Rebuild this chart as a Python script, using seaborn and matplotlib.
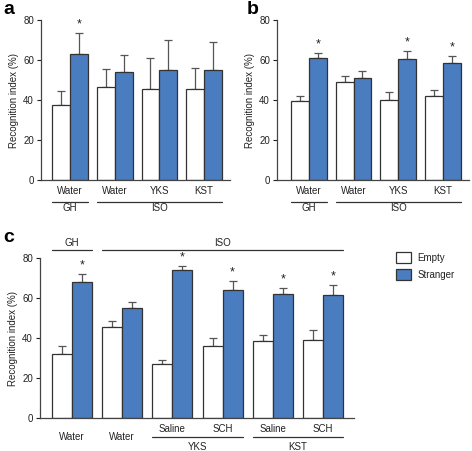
import numpy as np
import pandas as pd
import seaborn as sns
import matplotlib
matplotlib.use("Agg")
from matplotlib import pyplot as plt
from matplotlib import transforms
from matplotlib.patches import Patch

# ---- data ----
series = ["Empty", "Stranger"]

groups_ab = ["GH-Water", "ISO-Water", "ISO-YKS", "ISO-KST"]
a_empty = [37.5, 46.5, 45.5, 45.5]
a_empty_err = [7.0, 9.0, 15.5, 10.5]
a_stranger = [63.0, 54.0, 55.0, 55.0]
a_stranger_err = [10.5, 8.5, 15.0, 14.0]
a_star = [True, False, False, False]

b_empty = [39.5, 49.0, 40.0, 42.0]
b_empty_err = [2.5, 3.0, 4.0, 3.0]
b_stranger = [61.0, 51.0, 60.5, 58.5]
b_stranger_err = [2.5, 3.5, 4.0, 3.5]
b_star = [True, False, True, True]

groups_c = ["GH-Water", "ISO-Water", "YKS-Saline", "YKS-SCH", "KST-Saline", "KST-SCH"]
c_empty = [32.0, 45.5, 27.0, 36.0, 38.5, 39.0]
c_empty_err = [4.0, 3.0, 2.0, 4.0, 3.0, 5.0]
c_stranger = [68.0, 55.0, 74.0, 64.0, 62.0, 61.5]
c_stranger_err = [4.0, 3.0, 2.0, 4.5, 3.0, 5.0]
c_star = [True, False, True, True, True, True]

ab_ticklabels = ["Water", "Water", "YKS", "KST"]
c_ticklabels = ["Water", "Water", "Saline", "SCH", "Saline", "SCH"]

W, H = 472, 451
BLUE = "#4a7cc0"
EDGE = "#333333"
ERR = "#555555"
TXT = "#222222"

sns.set_style("white")
plt.rcParams["font.family"] = ["Liberation Sans", "DejaVu Sans"]

fig = plt.figure(figsize=(W / 100, H / 100), dpi=100)


def px_axes(left, top, right, bottom):
    return fig.add_axes([left / W, 1 - bottom / H, (right - left) / W, (bottom - top) / H])


def panel(ax, groups, empty, empty_err, stranger, stranger_err, stars, xlim):
    df = pd.DataFrame({
        "group": groups * 2,
        "kind": [series[0]] * len(groups) + [series[1]] * len(groups),
        "value": empty + stranger,
    })
    sns.barplot(data=df, x="group", y="value", hue="kind", order=groups,
                hue_order=series, palette={"Empty": "white", "Stranger": BLUE},
                saturation=1, errorbar=None, width=0.8, edgecolor=EDGE,
                linewidth=0.9, ax=ax, legend=False)
    errs = empty_err + stranger_err
    vals = empty + stranger
    star_flags = [False] * len(groups) + stars
    bars = [p for p in ax.patches if p.get_height() > 0]
    for bar, v, e, s in zip(bars, vals, errs, star_flags):
        xc = bar.get_x() + bar.get_width() / 2
        ax.errorbar(xc, v, yerr=[[0], [e]], color=ERR, lw=0.9, capsize=3,
                    capthick=0.9, zorder=0)
        if s:
            ax.text(xc, v + e + 1.5, "*", ha="center", va="bottom",
                    fontsize=9, color=TXT, clip_on=False)
    ax.set_ylim(0, 80)
    ax.set_xlim(*xlim)
    ax.set_yticks([0, 20, 40, 60, 80])
    ax.tick_params(axis="y", direction="out", length=3, width=0.8,
                   labelsize=7, colors=TXT, pad=2, left=True)
    ax.tick_params(axis="x", bottom=False, labelbottom=False)
    ax.set_xlabel("")
    ax.set_ylabel("Recognition index (%)", fontsize=7, color=TXT, labelpad=3)
    sns.despine(ax=ax)
    for sp in ["left", "bottom"]:
        ax.spines[sp].set_color("#444444")
        ax.spines[sp].set_linewidth(0.9)


def under(ax, x0, x1, dy_px, text=None, text_dy=None, top=False):
    # line (and optional label) below the axes, or above it when top=True
    tr = transforms.blended_transform_factory(ax.transData, ax.transAxes)
    h = ax.get_window_extent().height
    base, sign = (1.0, 1) if top else (0.0, -1)
    y = base + sign * dy_px / h
    ax.plot([x0, x1], [y, y], color="#333333", lw=0.9, transform=tr, clip_on=False)
    if text:
        ax.text((x0 + x1) / 2, base + sign * text_dy / h, text, transform=tr,
                ha="center", va="center", fontsize=7, color=TXT)


def label(ax, x, dy_px, text):
    tr = transforms.blended_transform_factory(ax.transData, ax.transAxes)
    h = ax.get_window_extent().height
    ax.text(x, -dy_px / h, text, transform=tr, ha="center", va="center",
            fontsize=7, color=TXT)


# panel a
ax_a = px_axes(41, 20, 230, 180)
panel(ax_a, groups_ab, a_empty, a_empty_err, a_stranger, a_stranger_err, a_star, (-0.65, 3.58))
for i, t in enumerate(ab_ticklabels):
    label(ax_a, i, 11, t)
under(ax_a, -0.4, 0.4, 22, "GH", 28)
under(ax_a, 0.6, 3.4, 22, "ISO", 28)

# panel b
ax_b = px_axes(277, 20, 469, 180)
panel(ax_b, groups_ab, b_empty, b_empty_err, b_stranger, b_stranger_err, b_star, (-0.71, 3.58))
for i, t in enumerate(ab_ticklabels):
    label(ax_b, i, 11, t)
under(ax_b, -0.4, 0.4, 22, "GH", 28)
under(ax_b, 0.6, 3.4, 22, "ISO", 28)

# panel c
ax_c = px_axes(40, 258, 354, 418)
panel(ax_c, groups_c, c_empty, c_empty_err, c_stranger, c_stranger_err, c_star, (-0.64, 5.62))
for i, t in enumerate(c_ticklabels):
    label(ax_c, i, 19 if t == "Water" else 11, t)
under(ax_c, 1.6, 3.4, 19, "YKS", 29)
under(ax_c, 3.6, 5.4, 19, "KST", 29)
under(ax_c, -0.4, 0.4, 8, "GH", 15, top=True)
under(ax_c, 0.6, 5.4, 8, "ISO", 15, top=True)

# legend
handles = [Patch(facecolor="white", edgecolor=EDGE, linewidth=0.9),
           Patch(facecolor=BLUE, edgecolor=EDGE, linewidth=0.9)]
fig.legend(handles, series, loc="upper left", bbox_to_anchor=(391 / W, 1 - 247 / H),
           frameon=False, fontsize=7, handlelength=1.6, handleheight=1.4,
           handletextpad=0.6, labelspacing=0.6, borderpad=0, labelcolor=TXT)

# panel letters
for x, y, t in [(3, 10, "a"), (247, 10, "b"), (3, 238, "c")]:
    fig.text(x / W, 1 - y / H, t, fontsize=14, fontweight="bold", va="center",
             ha="left", color="black")

fig.savefig("out.png", dpi=100)
